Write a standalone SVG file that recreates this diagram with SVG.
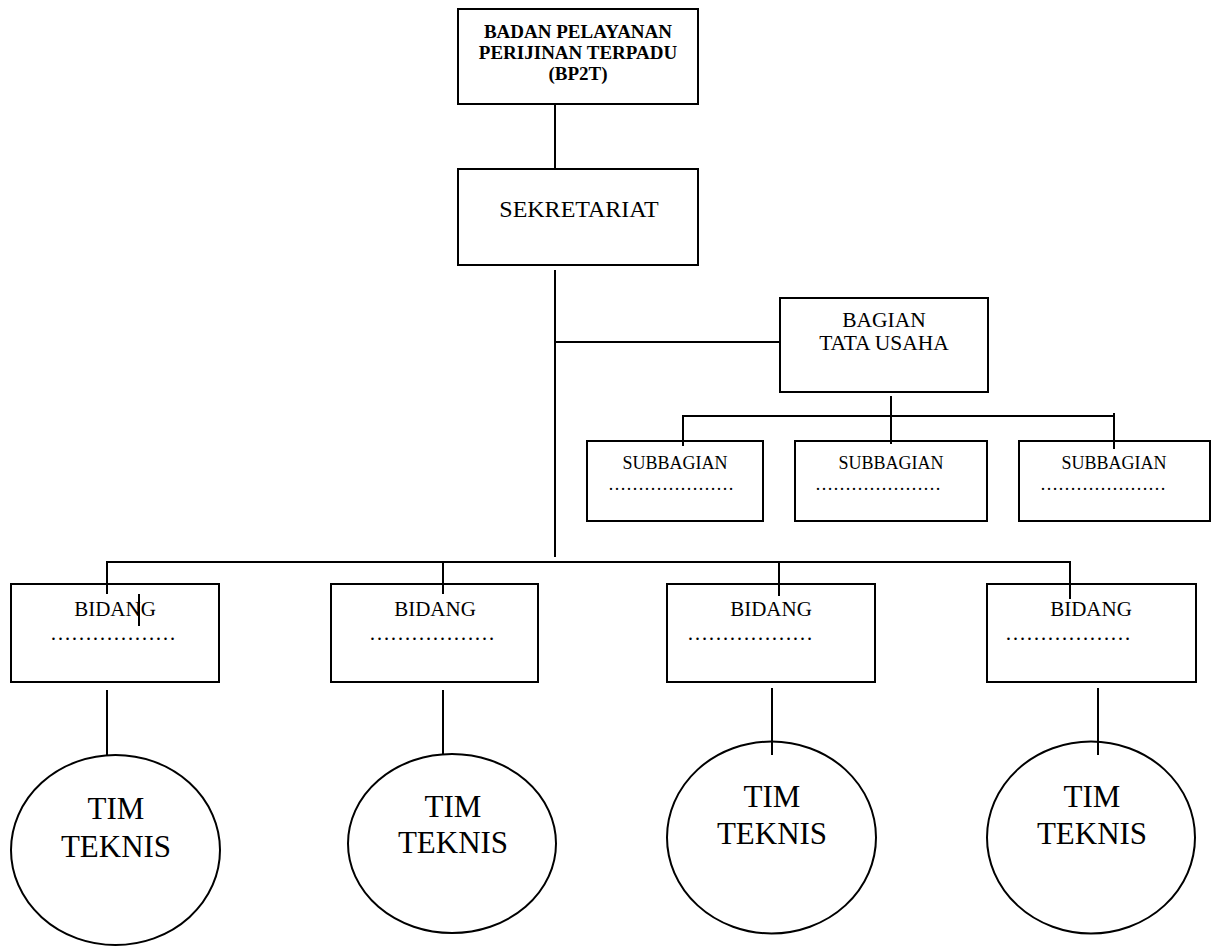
<svg xmlns="http://www.w3.org/2000/svg" width="1221" height="947" viewBox="0 0 1221 947">
<style>
  .box { fill: #ffffff; stroke: #000000; stroke-width: 2; }
  .conn line { stroke: #000000; stroke-width: 2; }
  text { font-family: "Liberation Serif", "Times New Roman", serif; fill: #000000; }
  .c { text-anchor: middle; }
  .bold { font-weight: bold; font-size: 19px; }
  .sek { font-size: 24px; }
  .bag { font-size: 21.5px; }
  .sub { font-size: 18px; }
  .bid { font-size: 21px; }
  .tim { font-size: 31px; }
</style>
<rect width="1221" height="947" fill="#ffffff"/>

<g id="bp2t">
  <rect class="box" x="458" y="9" width="240" height="95"/>
  <text class="c bold" x="578" y="38">BADAN PELAYANAN</text>
  <text class="c bold" x="578" y="59">PERIJINAN TERPADU</text>
  <text class="c bold" x="578" y="80">(BP2T)</text>
</g>

<g id="sekretariat">
  <rect class="box" x="458" y="169" width="240" height="96"/>
  <text class="c sek" x="579" y="217">SEKRETARIAT</text>
</g>

<g id="bagian-tata-usaha">
  <rect class="box" x="780" y="298" width="208" height="94"/>
  <text class="c bag" x="884" y="327">BAGIAN</text>
  <text class="c bag" x="884" y="350">TATA USAHA</text>
</g>

<g id="subbagian-1">
  <rect class="box" x="587" y="441" width="176" height="80"/>
  <text class="c sub" x="675" y="469">SUBBAGIAN</text>
  <text class="sub" x="608" y="490">&#8230;&#8230;&#8230;&#8230;&#8230;&#8230;&#8230;</text>
</g>
<g id="subbagian-2">
  <rect class="box" x="795" y="441" width="192" height="80"/>
  <text class="c sub" x="891" y="469">SUBBAGIAN</text>
  <text class="sub" x="815" y="490">&#8230;&#8230;&#8230;&#8230;&#8230;&#8230;&#8230;</text>
</g>
<g id="subbagian-3">
  <rect class="box" x="1019" y="441" width="191" height="80"/>
  <text class="c sub" x="1114" y="469">SUBBAGIAN</text>
  <text class="sub" x="1040" y="490">&#8230;&#8230;&#8230;&#8230;&#8230;&#8230;&#8230;</text>
</g>

<g id="bidang-1">
  <rect class="box" x="11" y="584" width="208" height="98"/>
  <text class="c bid" x="115" y="616">BIDANG</text>
  <text class="bid" x="50" y="640">&#8230;&#8230;&#8230;&#8230;&#8230;&#8230;</text>
</g>
<g id="bidang-2">
  <rect class="box" x="331" y="584" width="207" height="98"/>
  <text class="c bid" x="435" y="616">BIDANG</text>
  <text class="bid" x="369" y="640">&#8230;&#8230;&#8230;&#8230;&#8230;&#8230;</text>
</g>
<g id="bidang-3">
  <rect class="box" x="667" y="584" width="208" height="98"/>
  <text class="c bid" x="771" y="616">BIDANG</text>
  <text class="bid" x="687" y="640">&#8230;&#8230;&#8230;&#8230;&#8230;&#8230;</text>
</g>
<g id="bidang-4">
  <rect class="box" x="987" y="584" width="209" height="98"/>
  <text class="c bid" x="1091" y="616">BIDANG</text>
  <text class="bid" x="1005" y="640">&#8230;&#8230;&#8230;&#8230;&#8230;&#8230;</text>
</g>

<g id="tim-teknis-1">
  <ellipse class="box" cx="115.5" cy="850" rx="104.5" ry="95"/>
  <text class="c tim" x="116" y="819">TIM</text>
  <text class="c tim" x="116" y="857">TEKNIS</text>
</g>
<g id="tim-teknis-2">
  <ellipse class="box" cx="452" cy="843.5" rx="104" ry="89.5"/>
  <text class="c tim" x="453" y="817">TIM</text>
  <text class="c tim" x="453" y="853">TEKNIS</text>
</g>
<g id="tim-teknis-3">
  <ellipse class="box" cx="771.5" cy="837.5" rx="104.5" ry="96"/>
  <text class="c tim" x="772" y="807">TIM</text>
  <text class="c tim" x="772" y="844">TEKNIS</text>
</g>
<g id="tim-teknis-4">
  <ellipse class="box" cx="1091" cy="837.5" rx="104" ry="96"/>
  <text class="c tim" x="1092" y="807">TIM</text>
  <text class="c tim" x="1092" y="844">TEKNIS</text>
</g>

<g id="connectors" class="conn">
  <line x1="555" y1="104" x2="555" y2="169"/>
  <line x1="555" y1="270" x2="555" y2="557"/>
  <line x1="555" y1="342" x2="780" y2="342"/>
  <line x1="891" y1="396" x2="891" y2="444"/>
  <line x1="683" y1="416" x2="1114" y2="416"/>
  <line x1="683" y1="415" x2="683" y2="446"/>
  <line x1="1114" y1="413" x2="1114" y2="449"/>
  <line x1="107" y1="562" x2="1070" y2="562"/>
  <line x1="107" y1="561" x2="107" y2="594"/>
  <line x1="443" y1="562" x2="443" y2="594"/>
  <line x1="779" y1="562" x2="779" y2="596"/>
  <line x1="1070" y1="561" x2="1070" y2="599"/>
  <line x1="139" y1="594" x2="139" y2="626"/>
  <line x1="107" y1="690" x2="107" y2="755"/>
  <line x1="443" y1="690" x2="443" y2="754"/>
  <line x1="772" y1="688" x2="772" y2="755"/>
  <line x1="1098" y1="688" x2="1098" y2="755"/>
</g>
</svg>
